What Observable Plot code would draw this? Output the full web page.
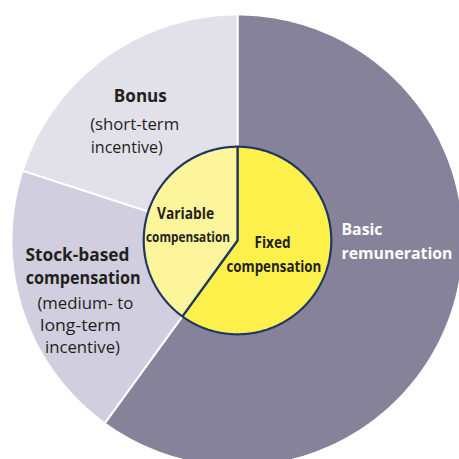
<!DOCTYPE html>
<html>
<head>
<meta charset="utf-8">
<script src="https://cdn.jsdelivr.net/npm/d3@7"></script>
<script src="https://cdn.jsdelivr.net/npm/@observablehq/plot@0.6"></script>
<style>
  html, body { margin: 0; padding: 0; background: #fff; }
  #chart { width: 459px; height: 459px; overflow: hidden; }
</style>
</head>
<body>
<div id="chart"></div>
<script>
// ---- data ----
const outerCategories = ["Basic remuneration", "Stock-based compensation", "Bonus"];
const outerValues = [60, 20, 20];
const innerCategories = ["Fixed compensation", "Variable compensation"];
const innerValues = [60, 40];

// ---- styles ----
const outerColors = ["#858299", "#d1cfdf", "#e2e1ea"];
const innerColors = ["#fdf04a", "#fdf59b"];
const navy = "#1e3762";
const innerRadius = 0.415; // relative to outer radius 1

// label lines (position in chart units, outer radius = 1, y up); w = rendered width in px
const labelLines = [
  {text: "Bonus", x: -0.43, y: 0.635, bold: true, size: 17, w: 53, fill: "#231f20"},
  {text: "(short-term", x: -0.455, y: 0.515, bold: false, size: 17, w: 89, fill: "#231f20"},
  {text: "incentive)", x: -0.49, y: 0.41, bold: false, size: 17, w: 72, fill: "#231f20"},
  {text: "Stock-based", x: -0.708, y: -0.065, bold: true, size: 17, w: 104, fill: "#231f20"},
  {text: "compensation", x: -0.683, y: -0.168, bold: true, size: 17, w: 115, fill: "#231f20"},
  {text: "(medium- to", x: -0.673, y: -0.279, bold: false, size: 17, w: 96, fill: "#231f20"},
  {text: "long-term", x: -0.695, y: -0.376, bold: false, size: 17, w: 81, fill: "#231f20"},
  {text: "incentive)", x: -0.686, y: -0.473, bold: false, size: 17, w: 75, fill: "#231f20"},
  {text: "Basic", x: 0.46, y: 0.049, bold: true, size: 16, w: 41, fill: "#ffffff", anchor: "start"},
  {text: "remuneration", x: 0.46, y: -0.058, bold: true, size: 16, w: 111, fill: "#ffffff", anchor: "start"},
  {text: "Variable", x: -0.23, y: 0.119, bold: true, size: 16, w: 57, fill: "#231f20"},
  {text: "compensation", x: -0.219, y: 0.013, bold: true, size: 15, w: 84, fill: "#231f20"},
  {text: "Fixed", x: 0.155, y: -0.008, bold: true, size: 16.5, w: 36, fill: "#231f20"},
  {text: "compensation", x: 0.161, y: -0.118, bold: true, size: 16.5, w: 95, fill: "#231f20"}
];

// ---- build slice polygons from values ----
function slices(values, radius, colors) {
  const total = d3.sum(values);
  let a0 = 0;
  return values.map((v, i) => {
    const a1 = a0 + (v / total) * 2 * Math.PI;
    const pts = [{x: 0, y: 0}];
    const n = Math.max(2, Math.ceil((a1 - a0) / (Math.PI / 360)));
    for (let k = 0; k <= n; k++) {
      const a = a0 + (a1 - a0) * k / n;
      pts.push({x: radius * Math.sin(a), y: radius * Math.cos(a)});
    }
    pts.push({x: 0, y: 0});
    a0 = a1;
    return {pts, color: colors[i]};
  });
}

const outer = slices(outerValues, 1, outerColors);
const inner = slices(innerValues, innerRadius, innerColors);

const R = 226, cx = 237, cy = 240, W = 459, H = 459;

const marks = [];
outer.forEach(s => marks.push(Plot.line(s.pts, {x: "x", y: "y", fill: s.color, stroke: "#ffffff", strokeWidth: 2, strokeLinejoin: "miter"})));
inner.forEach(s => marks.push(Plot.line(s.pts, {x: "x", y: "y", fill: s.color, stroke: navy, strokeWidth: 2.2, strokeLinejoin: "miter"})));
labelLines.forEach(l => marks.push(Plot.text([l], {
  x: "x", y: "y", text: "text",
  fontSize: l.size, fontWeight: l.bold ? "bold" : "normal",
  fill: l.fill, textAnchor: l.anchor || "middle", lineAnchor: "middle",
  render(index, scales, values, dimensions, context, next) {
    const g = next(index, scales, values, dimensions, context);
    g.querySelectorAll("text").forEach(t => {
      t.setAttribute("textLength", l.w);
      t.setAttribute("lengthAdjust", "spacingAndGlyphs");
    });
    return g;
  }
})));

const chart = Plot.plot({
  width: W, height: H,
  margin: 0,
  style: {fontFamily: "'Open Sans', sans-serif", background: "#fff", overflow: "visible"},
  x: {domain: [-cx / R, (W - cx) / R], range: [0, W], axis: null},
  y: {domain: [-(H - cy) / R, cy / R], range: [H, 0], axis: null},
  marks
});
document.getElementById("chart").append(chart);
</script>
</body>
</html>
